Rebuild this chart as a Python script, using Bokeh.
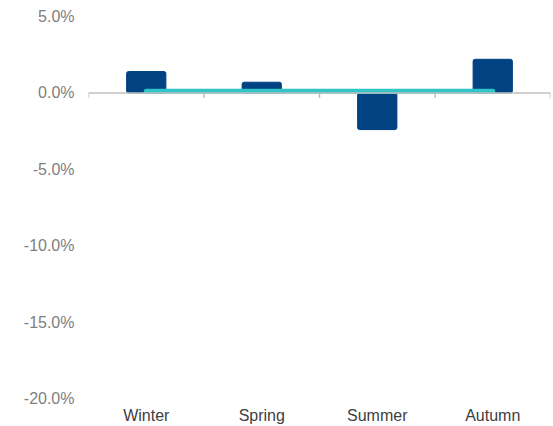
from bokeh.plotting import figure
from bokeh.models import FactorRange, Range1d, NumeralTickFormatter, FixedTicker, Span
from bokeh.embed import file_html
from bokeh.resources import INLINE

seasons = ["Winter", "Spring", "Summer", "Autumn"]
bar_values = [0.014, 0.007, -0.024, 0.022]
line_values = [0.001, 0.001, 0.001, 0.001]
y_ticks = [-0.20, -0.15, -0.10, -0.05, 0.0, 0.05]

p = figure(x_range=FactorRange(factors=seasons, range_padding=0),
           y_range=Range1d(-0.20, 0.05),
           width=551, height=426, output_backend="svg", toolbar_location=None,
           min_border_left=88, min_border_right=1, min_border_top=16, min_border_bottom=28)
p.outline_line_color = None
p.xgrid.grid_line_color = None
p.ygrid.grid_line_color = None
p.background_fill_color = "white"
p.border_fill_color = "white"

# zero axis line with category boundary ticks
p.add_layout(Span(location=0, dimension="width", line_color="#bfbfbf", line_width=1.5))
bounds = list(range(len(seasons) + 1))
p.segment(x0=bounds, y0=[0] * len(bounds), x1=bounds, y1=[-0.0033] * len(bounds),
          line_color="#bfbfbf", line_width=1.5)

p.vbar(x=seasons, top=bar_values, bottom=0, width=0.34, color="#004282",
       line_color="#004282", border_radius=2)
p.line(x=seasons, y=line_values, line_color="#33C4C8", line_width=5, line_cap="round")

p.yaxis.ticker = FixedTicker(ticks=y_ticks)
p.yaxis.formatter = NumeralTickFormatter(format="0.0%")
p.yaxis.axis_line_color = None
p.yaxis.major_tick_line_color = None
p.yaxis.minor_tick_line_color = None
p.yaxis.major_tick_out = 0
p.yaxis.major_label_standoff = 14
p.yaxis.major_label_text_font = "Liberation Sans"
p.yaxis.major_label_text_font_size = "16px"
p.yaxis.major_label_text_color = "#808080"

p.xaxis.axis_line_color = None
p.xaxis.major_tick_line_color = None
p.xaxis.minor_tick_line_color = None
p.xaxis.major_tick_out = 0
p.xaxis.major_label_standoff = 8
p.xaxis.major_label_text_font = "Liberation Sans"
p.xaxis.major_label_text_font_size = "16px"
p.xaxis.major_label_text_color = "#404040"

open("out.html", "w").write(file_html(p, INLINE))
